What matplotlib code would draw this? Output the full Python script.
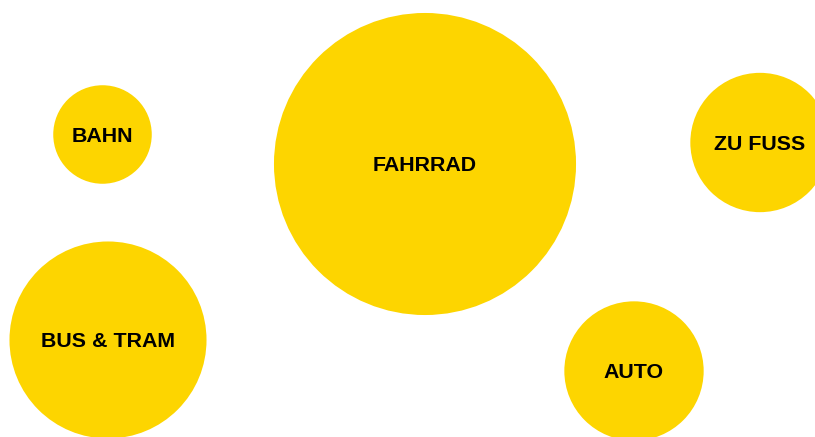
import matplotlib

matplotlib.use("Agg")
import matplotlib.pyplot as plt
from matplotlib.patches import Circle
import numpy as np

# share of trips per mode (bubble area proportional to value)
categories = ["BAHN", "BUS & TRAM", "FAHRRAD", "ZU FUSS", "AUTO"]
values = [5, 20, 47, 10, 10]

# layout: bubble centres in pixel space (y grows downward)
bubble_x = [102.5, 108, 425, 760, 634]
bubble_y = [134.5, 340, 164, 142.5, 371]
RADIUS_SCALE = 22.03  # px per sqrt(value)
LABEL_DY = 1.8  # caps-only labels sit a bit low of the text box centre

FILL = "#FDD500"

fig = plt.figure(figsize=(8.15, 4.37), dpi=100)
ax = fig.add_axes([0, 0, 1, 1])
ax.set_xlim(0, 815)
ax.set_ylim(437, 0)
ax.set_aspect("equal")
ax.axis("off")

for label, v, x, y in zip(categories, values, bubble_x, bubble_y):
    r = RADIUS_SCALE * np.sqrt(v)
    ax.add_patch(Circle((x, y), r, facecolor=FILL, edgecolor="none"))
    ax.text(
        x,
        y + LABEL_DY,
        label,
        ha="center",
        va="center",
        fontsize=15.4,
        fontweight="bold",
        family=["Liberation Sans", "DejaVu Sans"],
        color="#000000",
    )

fig.savefig("out.png", dpi=100, facecolor="white")
plt.close(fig)
